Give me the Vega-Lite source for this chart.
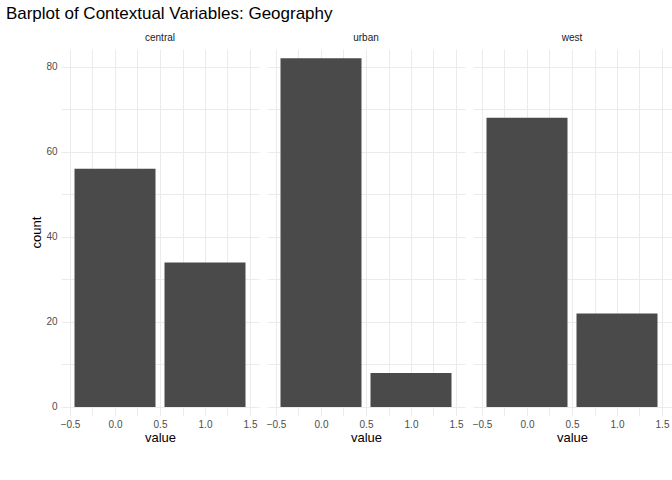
{
  "$schema": "https://vega.github.io/schema/vega-lite/v6.json",
  "title": {"text": "Barplot of Contextual Variables: Geography", "anchor": "start", "fontSize": 17, "fontWeight": "normal", "font": "Liberation Sans", "color": "#000", "offset": 10, "dx": -25},
  "data": {"values": [
    {"variable": "central", "value": 0, "count": 56},
    {"variable": "central", "value": 1, "count": 34},
    {"variable": "urban", "value": 0, "count": 82},
    {"variable": "urban", "value": 1, "count": 8},
    {"variable": "west", "value": 0, "count": 68},
    {"variable": "west", "value": 1, "count": 22}
  ]},
  "transform": [
    {"calculate": "datum.value - 0.45", "as": "lo"},
    {"calculate": "datum.value + 0.45", "as": "hi"}
  ],
  "facet": {"column": {"field": "variable", "type": "nominal", "title": null,
    "header": {"labelFontSize": 10, "labelFont": "Liberation Sans", "labelColor": "#1a1a1a", "labelPadding": 6}}},
  "spacing": 8,
  "spec": {
    "width": 198,
    "height": 366,
    "mark": {"type": "bar", "color": "#4a4a4a"},
    "encoding": {
      "x": {"field": "lo", "type": "quantitative", "title": "value",
        "scale": {"domain": [-0.6, 1.6], "nice": false, "zero": false},
        "axis": {"values": [-0.5, -0.25, 0, 0.25, 0.5, 0.75, 1, 1.25, 1.5],
          "labelExpr": "datum.value * 4 % 2 == 0 ? format(datum.value, '.1f') : ''"}},
      "x2": {"field": "hi"},
      "y": {"field": "count", "type": "quantitative", "title": "count",
        "scale": {"domain": [-1.9, 84.2], "nice": false, "zero": false},
        "axis": {"values": [0, 10, 20, 30, 40, 50, 60, 70, 80],
          "labelExpr": "datum.value % 20 == 0 ? datum.label : ''"}},
      "y2": {"datum": 0}
    }
  },
  "config": {
    "view": {"stroke": null},
    "font": "Liberation Sans",
    "axis": {"domain": false, "ticks": false, "gridColor": "#ebebeb", "labelColor": "#4d4d4d",
      "labelFontSize": 10, "titleFontSize": 13, "titleFontWeight": "normal", "titleColor": "#000", "labelPadding": 4, "titlePadding": 2}
  }
}
